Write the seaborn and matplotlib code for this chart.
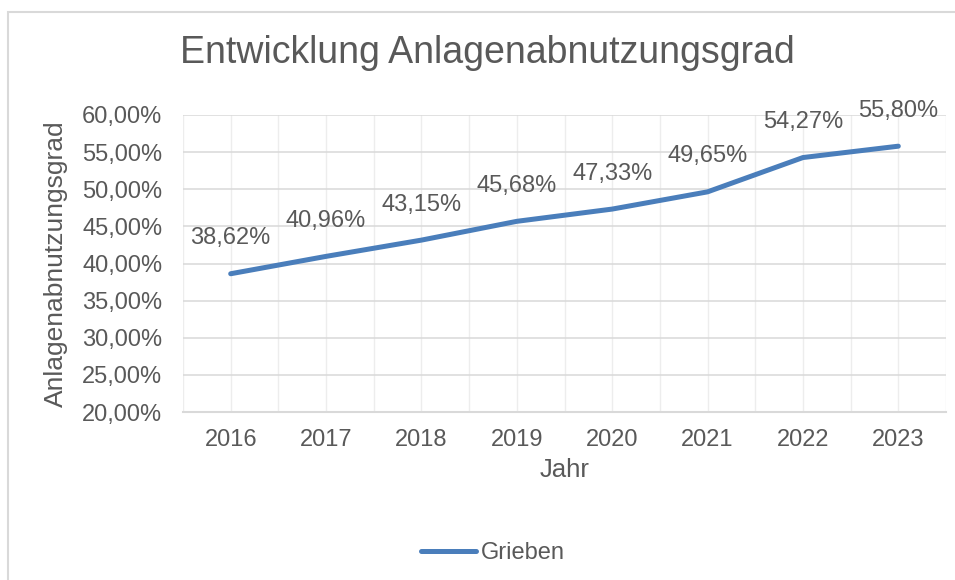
import pandas as pd
import matplotlib.pyplot as plt
import matplotlib.patches as mpatches
import seaborn as sns

# ---------------- DATA ----------------
years = [2016, 2017, 2018, 2019, 2020, 2021, 2022, 2023]
grad = [38.62, 40.96, 43.15, 45.68, 47.33, 49.65, 54.27, 55.80]
series_name = "Grieben"
y_ticks = [20, 25, 30, 35, 40, 45, 50, 55, 60]

df = pd.DataFrame({"Jahr": years, "Grad": grad})

# ---------------- STYLE ----------------
sns.set_theme(style="white")
plt.rcParams["font.family"] = ["Liberation Sans", "DejaVu Sans"]
txt = "#595959"
blue = "#4a7ebb"

fig = plt.figure(figsize=(9.55, 5.8), dpi=100)
ax = fig.add_axes([183 / 955, 1 - 412 / 580, 763 / 955, 297 / 580])

sns.lineplot(data=df, x="Jahr", y="Grad", ax=ax, color=blue, linewidth=3.6,
             label=series_name, solid_capstyle="round")

# axes
ax.set_xlim(years[0] - 0.5, years[-1] + 0.5)
ax.set_ylim(y_ticks[0], y_ticks[-1])
ax.set_yticks(y_ticks)
ax.set_yticklabels([f"{v:.2f}%".replace(".", ",") for v in y_ticks], fontsize=17, color=txt)
ax.set_xticks(years)
ax.set_xticklabels([str(y) for y in years], fontsize=17, color=txt)
ax.set_xticks([y - 0.5 for y in years] + [years[-1] + 0.5], minor=True)
ax.tick_params(axis="both", which="both", length=0)
ax.tick_params(axis="y", pad=15)
ax.tick_params(axis="x", pad=12)

ax.grid(axis="y", color="#d9d9d9", linewidth=1.1)
ax.grid(axis="x", which="both", color="#ededed", linewidth=1.0)
for s in ["top", "right", "left"]:
    ax.spines[s].set_visible(False)
ax.spines["bottom"].set_color("#d9d9d9")
ax.spines["bottom"].set_linewidth(1.5)

ax.set_xlabel("Jahr", fontsize=18.5, color=txt)
ax.xaxis.set_label_coords(0.5, -0.155)
ax.set_ylabel("Anlagenabnutzungsgrad", fontsize=19, color=txt)
ax.yaxis.set_label_coords(-0.151, 0.5)

# data labels
for x, v in zip(years, grad):
    ax.annotate(f"{v:.2f}%".replace(".", ","), (x, v), xytext=(0, 25.5),
                textcoords="offset points", ha="center", va="center",
                fontsize=17, color=txt)

# title
fig.text(487 / 955, 1 - 53 / 580, "Entwicklung Anlagenabnutzungsgrad",
         ha="center", va="center", fontsize=27, color=txt)

# legend
handles, labels = ax.get_legend_handles_labels()
ax.get_legend().remove()
leg = fig.legend(handles, labels, loc="center", bbox_to_anchor=(493 / 955, 1 - 553 / 580),
                 frameon=False, handlelength=2.3, handletextpad=0.2,
                 prop={"size": 17})
for t in leg.get_texts():
    t.set_color(txt)

# chart border
fig.patches.append(mpatches.Rectangle((8 / 955, -0.05), 1.1, 1 - 12 / 580 + 0.05,
                                      transform=fig.transFigure, fill=False,
                                      edgecolor="#d9d9d9", linewidth=1.5))

fig.savefig("out.png", dpi=100)
